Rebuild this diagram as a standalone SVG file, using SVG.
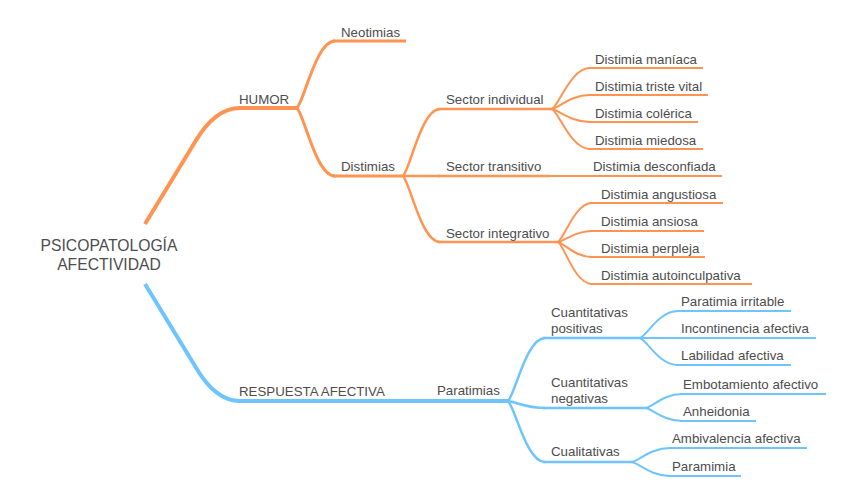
<svg xmlns="http://www.w3.org/2000/svg" width="848" height="499" viewBox="0 0 848 499">
<style>
text{font-family:"Liberation Sans",Arial,sans-serif;font-size:13.3px;fill:#4d4d4d}
.root{font-size:15.7px;text-anchor:middle}
path,line{fill:none;stroke-linecap:butt;stroke-linejoin:round}
.o{stroke:#ff9452}
.b{stroke:#6ec4ff}
.w4{stroke-width:4}
.w3{stroke-width:3}
.w25{stroke-width:2.5}
.w2{stroke-width:2}
</style>
<rect width="848" height="499" fill="#ffffff"/>
<g id="connectors">
<path class="o w4" d="M145,224 L195,142 Q215,108 240,108"/>
<path class="o w3" d="M297,108 C304.6,100 316,41 335,41"/>
<path class="o w3" d="M297,108 C304.6,116 316,176 335,176"/>
<path class="o w25" d="M403,176 C410.4,168 421.5,109 440,109"/>
<path class="o w25" d="M403,176 H440"/>
<path class="o w25" d="M403,176 C410.4,184 421.5,242 440,242"/>
<path class="o w2" d="M552,109 C559.6,104 571,68 590,68"/>
<path class="o w2" d="M552,109 C559.6,107.3 571,95 590,95"/>
<path class="o w2" d="M552,109 C559.6,110.6 571,122 590,122"/>
<path class="o w2" d="M552,109 C559.6,113.8 571,149 590,149"/>
<path class="o w2" d="M550,176 H590"/>
<path class="o w2" d="M558,242 C564.8,237.3 575,203 592,203"/>
<path class="o w2" d="M558,242 C564.8,240.6 575,231 592,231"/>
<path class="o w2" d="M558,242 C564.8,243.8 575,257 592,257"/>
<path class="o w2" d="M558,242 C564.8,247 575,284 592,284"/>
<path class="b w4" d="M145,284 L195,366 Q215,401 240,401"/>
<path class="b w4" d="M390,401 H432"/>
<path class="b w25" d="M508,401 C515.4,393.4 526.5,338 545,338"/>
<path class="b w25" d="M508,401 C515.4,401.8 526.5,408 545,408"/>
<path class="b w25" d="M508,401 C515.4,408.3 526.5,462 545,462"/>
<path class="b w2" d="M640,338 C647.6,334.8 659,311 678,311"/>
<path class="b w2" d="M640,338 H678"/>
<path class="b w2" d="M640,338 C647.6,341.2 659,365 678,365"/>
<path class="b w2" d="M646,408 C653.2,406.3 664,394 682,394"/>
<path class="b w2" d="M646,408 C653.2,409.6 664,421 682,421"/>
<path class="b w2" d="M632,462 C639.6,460.3 651,448 670,448"/>
<path class="b w2" d="M632,462 C639.6,463.7 651,476 670,476"/>
</g>
<g id="root"><text class="root" x="109" y="251">PSICOPATOLOGÍA</text><text class="root" x="109" y="270">AFECTIVIDAD</text></g>
<g id="humor"><line class="o w4" x1="238" y1="108" x2="298" y2="108"/><text x="239" y="104">HUMOR</text></g>
<g id="neotimias"><line class="o w3" x1="333" y1="41" x2="406" y2="41"/><text x="341" y="37">Neotimias</text></g>
<g id="distimias"><line class="o w3" x1="333" y1="176" x2="404" y2="176"/><text x="341" y="171">Distimias</text></g>
<g id="sector-individual"><line class="o w25" x1="438" y1="109" x2="553" y2="109"/><text x="446" y="104">Sector individual</text></g>
<g id="sector-transitivo"><line class="o w25" x1="438" y1="176" x2="550" y2="176"/><text x="446" y="171">Sector transitivo</text></g>
<g id="sector-integrativo"><line class="o w25" x1="438" y1="242" x2="559" y2="242"/><text x="446" y="238">Sector integrativo</text></g>
<g id="distimia-maniaca"><line class="o w2" x1="588" y1="68" x2="703" y2="68"/><text x="595" y="64">Distimia maníaca</text></g>
<g id="distimia-triste-vital"><line class="o w2" x1="588" y1="95" x2="708" y2="95"/><text x="595" y="91">Distimia triste vital</text></g>
<g id="distimia-colerica"><line class="o w2" x1="588" y1="122" x2="698" y2="122"/><text x="595" y="118">Distimia colérica</text></g>
<g id="distimia-miedosa"><line class="o w2" x1="588" y1="149" x2="703" y2="149"/><text x="595" y="145">Distimia miedosa</text></g>
<g id="distimia-desconfiada"><line class="o w2" x1="588" y1="176" x2="722" y2="176"/><text x="593" y="171">Distimia desconfiada</text></g>
<g id="distimia-angustiosa"><line class="o w2" x1="590" y1="203" x2="723" y2="203"/><text x="601" y="199">Distimia angustiosa</text></g>
<g id="distimia-ansiosa"><line class="o w2" x1="590" y1="231" x2="704" y2="231"/><text x="601" y="226">Distimia ansiosa</text></g>
<g id="distimia-perpleja"><line class="o w2" x1="590" y1="257" x2="705" y2="257"/><text x="601" y="253">Distimia perpleja</text></g>
<g id="distimia-autoinculpativa"><line class="o w2" x1="590" y1="284" x2="752" y2="284"/><text x="601" y="280">Distimia autoinculpativa</text></g>
<g id="respuesta-afectiva"><line class="b w4" x1="238" y1="401" x2="392" y2="401"/><text x="239" y="396">RESPUESTA AFECTIVA</text></g>
<g id="paratimias"><line class="b w4" x1="430" y1="401" x2="509" y2="401"/><text x="437" y="395">Paratimias</text></g>
<g id="cuantitativas-positivas"><line class="b w25" x1="543" y1="338" x2="641" y2="338"/><text x="551" y="317">Cuantitativas</text><text x="551" y="333">positivas</text></g>
<g id="cuantitativas-negativas"><line class="b w25" x1="543" y1="408" x2="647" y2="408"/><text x="551" y="387">Cuantitativas</text><text x="551" y="403">negativas</text></g>
<g id="cualitativas"><line class="b w25" x1="543" y1="462" x2="633" y2="462"/><text x="551" y="456">Cualitativas</text></g>
<g id="paratimia-irritable"><line class="b w2" x1="676" y1="311" x2="791" y2="311"/><text x="681" y="306">Paratimia irritable</text></g>
<g id="incontinencia-afectiva"><line class="b w2" x1="676" y1="338" x2="816" y2="338"/><text x="681" y="333">Incontinencia afectiva</text></g>
<g id="labilidad-afectiva"><line class="b w2" x1="676" y1="365" x2="791" y2="365"/><text x="681" y="360">Labilidad afectiva</text></g>
<g id="embotamiento-afectivo"><line class="b w2" x1="680" y1="394" x2="826" y2="394"/><text x="683" y="389">Embotamiento afectivo</text></g>
<g id="anheidonia"><line class="b w2" x1="680" y1="421" x2="756" y2="421"/><text x="683" y="416">Anheidonia</text></g>
<g id="ambivalencia-afectiva"><line class="b w2" x1="668" y1="448" x2="807" y2="448"/><text x="672" y="443">Ambivalencia afectiva</text></g>
<g id="paramimia"><line class="b w2" x1="668" y1="476" x2="741" y2="476"/><text x="672" y="471">Paramimia</text></g>
</svg>
